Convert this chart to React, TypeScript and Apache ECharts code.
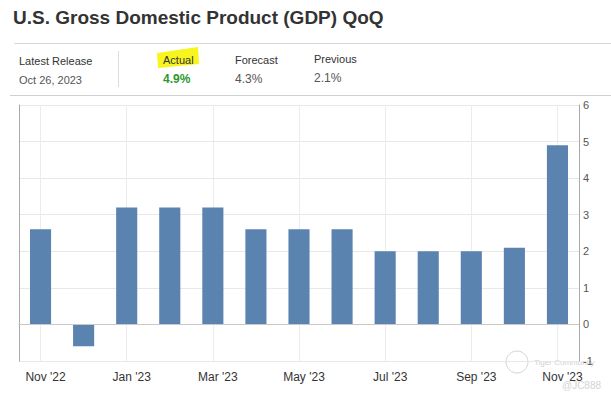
import React, { useEffect, useRef } from "react";
import * as echarts from "echarts";

const categories = [
  "Nov '22", "Dec '22", "Jan '23", "Feb '23", "Mar '23", "Apr '23", "May '23",
  "Jun '23", "Jul '23", "Aug '23", "Sep '23", "Oct '23", "Nov '23",
];
const gdpValues = [2.6, -0.6, 3.2, 3.2, 3.2, 2.6, 2.6, 2.6, 2.0, 2.0, 2.0, 2.1, 4.9];
const yTicks = { min: -1, max: 6, interval: 1 };
const title = "U.S. Gross Domestic Product (GDP) QoQ";
const infoLabels = ["Latest Release", "Actual", "Forecast", "Previous"];
const infoValues = ["Oct 26, 2023", "4.9%", "4.3%", "2.1%"];

const FONT = "'Liberation Sans', Arial, sans-serif";

export default function App() {
  const ref = useRef<HTMLDivElement>(null);
  useEffect(() => {
    if (!ref.current) return;
    const chart = echarts.init(ref.current, null, { renderer: "svg" });
    chart.setOption({
      animation: false,
      backgroundColor: "#ffffff",
      textStyle: { fontFamily: FONT },
      grid: { left: 19, right: 32, top: 105, bottom: 36, containLabel: false },
      xAxis: {
        type: "category",
        data: categories,
        boundaryGap: true,
        axisLine: { show: true, lineStyle: { color: "#b5b5b5", width: 1 } },
        axisTick: { show: false },
        axisLabel: {
          interval: 1,
          color: "#333333",
          fontSize: 12,
          margin: 10,
          fontFamily: FONT,
          padding: [0, 0, 0, 10],
        },
        splitLine: {
          show: true,
          interval: 1,
          alignWithLabel: true,
          lineStyle: { color: "#ececec", width: 1 },
        },
      },
      yAxis: [
        {
          type: "value",
          position: "right",
          min: yTicks.min,
          max: yTicks.max,
          interval: yTicks.interval,
          axisLine: { show: true, lineStyle: { color: "#a8a8a8", width: 1 } },
          axisTick: { show: false },
          axisLabel: { color: "#555555", fontSize: 11, margin: 4, fontFamily: FONT },
          splitLine: { show: true, lineStyle: { color: "#e8e8e8", width: 1 } },
        },
        {
          type: "value",
          position: "left",
          min: yTicks.min,
          max: yTicks.max,
          interval: yTicks.interval,
          axisLine: { show: true, lineStyle: { color: "#a8a8a8", width: 1 } },
          axisTick: { show: false },
          axisLabel: { show: false },
          splitLine: { show: false },
        },
      ],
      series: [
        {
          type: "bar",
          data: gdpValues,
          yAxisIndex: 0,
          barWidth: "49%",
          itemStyle: { color: "#5b83b0" },
          markLine: {
            silent: true,
            symbol: "none",
            label: { show: false },
            lineStyle: { color: "#c8c8c8", type: "solid", width: 1 },
            data: [{ yAxis: 0 }],
          },
        },
      ],
      graphic: [
        {
          type: "text",
          left: 13,
          top: 8,
          style: { text: title, font: `bold 19px ${FONT}`, fill: "#333333" },
        },
        { type: "line", shape: { x1: 14, y1: 43.5, x2: 611, y2: 43.5 }, style: { stroke: "#d8d8d8", lineWidth: 1 } },
        { type: "line", shape: { x1: 10, y1: 95.5, x2: 611, y2: 95.5 }, style: { stroke: "#d0d0d0", lineWidth: 1 } },
        { type: "line", shape: { x1: 118.5, y1: 51, x2: 118.5, y2: 87 }, style: { stroke: "#dddddd", lineWidth: 1 } },
        {
          type: "polygon",
          shape: { points: [[157, 53], [198, 47], [199, 64], [158, 68]] },
          style: { fill: "#f8f41e" },
        },
        { type: "text", x: 19, y: 61, style: { text: infoLabels[0], font: `11px ${FONT}`, fill: "#333333", textVerticalAlign: "middle" } },
        { type: "text", x: 19, y: 80, style: { text: infoValues[0], font: `11px ${FONT}`, fill: "#555555", textVerticalAlign: "middle" } },
        { type: "text", x: 163, y: 60, style: { text: infoLabels[1], font: `11px ${FONT}`, fill: "#333333", textVerticalAlign: "middle" } },
        { type: "text", x: 163, y: 79, style: { text: infoValues[1], font: `bold 12px ${FONT}`, fill: "#2e9a2e", textVerticalAlign: "middle" } },
        { type: "text", x: 235, y: 60, style: { text: infoLabels[2], font: `11px ${FONT}`, fill: "#333333", textVerticalAlign: "middle" } },
        { type: "text", x: 235, y: 79, style: { text: infoValues[2], font: `12px ${FONT}`, fill: "#555555", textVerticalAlign: "middle" } },
        { type: "text", x: 314, y: 59, style: { text: infoLabels[3], font: `11px ${FONT}`, fill: "#333333", textVerticalAlign: "middle" } },
        { type: "text", x: 314, y: 78, style: { text: infoValues[3], font: `12px ${FONT}`, fill: "#555555", textVerticalAlign: "middle" } },
        { type: "circle", shape: { cx: 517, cy: 362, r: 11 }, style: { fill: "none", stroke: "#d4d4d4", lineWidth: 1 } },
        { type: "text", x: 534, y: 362, style: { text: "Tiger Community", font: `8px ${FONT}`, fill: "#d2d2d2", textVerticalAlign: "middle" } },
        { type: "text", x: 562, y: 385, style: { text: "@JC888", font: `10px ${FONT}`, fill: "#d4d4d4", textVerticalAlign: "middle" } },
      ],
    });
    return () => chart.dispose();
  }, []);
  return (
    <div
      ref={ref}
      style={{ position: "fixed", left: 0, top: 0, width: 611, height: 397, background: "#fff" }}
    />
  );
}
